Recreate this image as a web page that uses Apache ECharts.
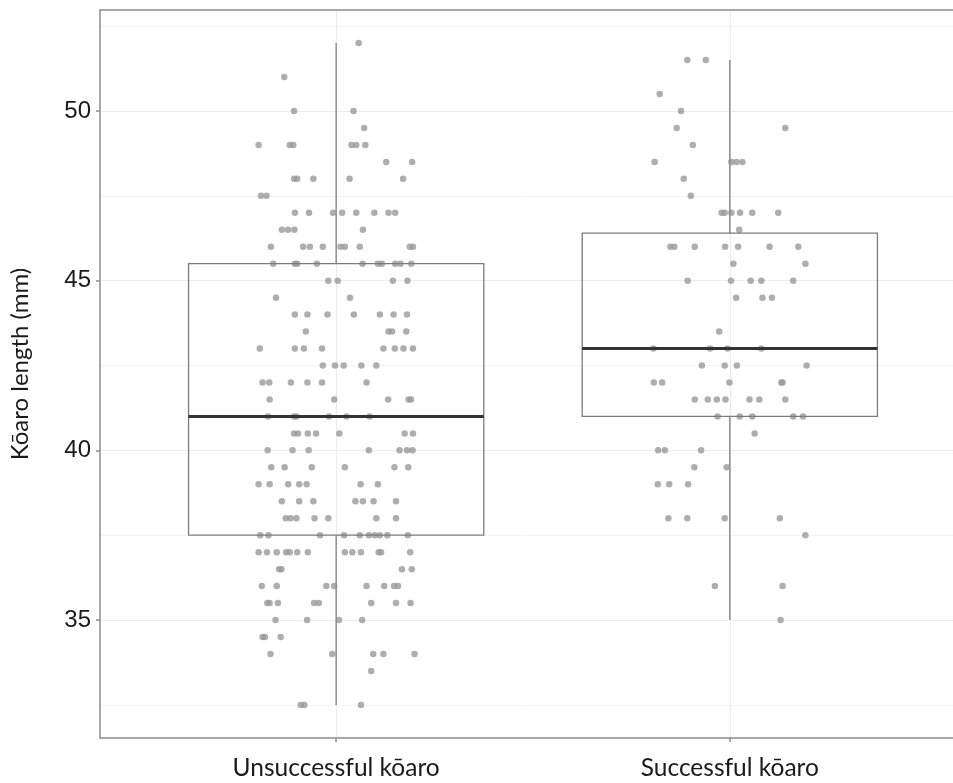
<!DOCTYPE html>
<html>
<head>
<meta charset="utf-8">
<title>Kōaro length</title>
<script src="https://cdn.jsdelivr.net/npm/echarts@6/dist/echarts.min.js"></script>
<style>
  html, body { margin: 0; padding: 0; background: #fff; }
  #chart { width: 953px; height: 783px; }
</style>
</head>
<body>
<div id="chart"></div>
<script>
const categories = ['Unsuccessful kōaro', 'Successful kōaro']

// [lower whisker, Q1, median, Q3, upper whisker]
const boxStats = [
  [32.5, 37.5, 41, 45.5, 52],
  [35, 41, 43, 46.4, 51.5]
]

const yTicks = [35, 40, 45, 50]
const yMinorLines = [32.5, 37.5, 42.5, 47.5, 52.5]

// jittered points: [horizontal jitter, length mm]
const unsuccessfulPoints = [
  [0.057, 52], [-0.132, 51], [-0.107, 50], [0.044, 50], [0.071, 49.5],
  [-0.197, 49], [-0.118, 49], [-0.109, 49], [0.039, 49], [0.051, 49], [0.074, 49],
  [0.127, 48.5], [0.193, 48.5],
  [-0.107, 48], [-0.099, 48], [-0.058, 48], [0.034, 48], [0.170, 48],
  [-0.191, 47.5], [-0.177, 47.5],
  [-0.105, 47], [-0.069, 47], [-0.008, 47], [0.015, 47], [0.051, 47], [0.097, 47], [0.133, 47], [0.150, 47],
  [-0.138, 46.5], [-0.122, 46.5], [-0.106, 46.5], [0.068, 46.5],
  [-0.166, 46], [-0.084, 46], [-0.067, 46], [-0.034, 46], [0.011, 46], [0.022, 46], [0.060, 46], [0.187, 46], [0.195, 46],
  [-0.160, 45.5], [-0.105, 45.5], [-0.099, 45.5], [-0.049, 45.5], [0.067, 45.5], [0.106, 45.5], [0.116, 45.5], [0.150, 45.5], [0.163, 45.5], [0.191, 45.5],
  [-0.020, 45], [0.004, 45], [0.144, 45], [0.181, 45],
  [-0.153, 44.5], [0.035, 44.5],
  [-0.105, 44], [-0.073, 44], [-0.022, 44], [0.045, 44], [0.111, 44], [0.146, 44], [0.180, 44],
  [-0.077, 43.5], [0.133, 43.5], [0.142, 43.5], [0.178, 43.5],
  [-0.194, 43], [-0.105, 43], [-0.082, 43], [-0.036, 43], [0.120, 43], [0.149, 43], [0.171, 43], [0.195, 43],
  [-0.034, 42.5], [-0.003, 42.5], [0.019, 42.5], [0.064, 42.5], [0.102, 42.5],
  [-0.187, 42], [-0.170, 42], [-0.115, 42], [-0.073, 42], [-0.036, 42], [0.077, 42],
  [-0.169, 41.5], [-0.005, 41.5], [0.132, 41.5], [0.184, 41.5], [0.190, 41.5],
  [-0.173, 41], [-0.107, 41], [-0.101, 41], [-0.018, 41], [0.026, 41], [0.085, 41],
  [-0.107, 40.5], [-0.097, 40.5], [-0.072, 40.5], [-0.051, 40.5], [0.008, 40.5], [0.174, 40.5], [0.195, 40.5],
  [-0.174, 40], [-0.111, 40], [-0.070, 40], [0.083, 40], [0.161, 40], [0.180, 40], [0.194, 40],
  [-0.165, 39.5], [-0.131, 39.5], [-0.062, 39.5], [0.022, 39.5], [0.148, 39.5], [0.183, 39.5],
  [-0.197, 39], [-0.169, 39], [-0.122, 39], [-0.094, 39], [-0.075, 39], [0.062, 39], [0.106, 39],
  [-0.138, 38.5], [-0.094, 38.5], [-0.058, 38.5], [0.049, 38.5], [0.068, 38.5], [0.095, 38.5], [0.152, 38.5],
  [-0.128, 38], [-0.116, 38], [-0.101, 38], [-0.055, 38], [-0.020, 38], [0.102, 38], [0.152, 38],
  [-0.193, 37.5], [-0.172, 37.5], [-0.041, 37.5], [0.020, 37.5], [0.060, 37.5], [0.083, 37.5], [0.098, 37.5], [0.111, 37.5], [0.130, 37.5], [0.182, 37.5],
  [-0.197, 37], [-0.176, 37], [-0.151, 37], [-0.127, 37], [-0.118, 37], [-0.099, 37], [-0.072, 37], [0.022, 37], [0.041, 37], [0.063, 37], [0.108, 37], [0.114, 37], [0.188, 37],
  [-0.145, 36.5], [-0.139, 36.5], [0.167, 36.5], [0.192, 36.5],
  [-0.189, 36], [-0.151, 36], [-0.025, 36], [-0.005, 36], [0.077, 36], [0.122, 36], [0.147, 36], [0.157, 36],
  [-0.175, 35.5], [-0.169, 35.5], [-0.148, 35.5], [-0.056, 35.5], [-0.044, 35.5], [0.089, 35.5], [0.152, 35.5], [0.189, 35.5],
  [-0.154, 35], [-0.074, 35], [0.007, 35], [0.066, 35],
  [-0.187, 34.5], [-0.181, 34.5], [-0.141, 34.5],
  [-0.167, 34], [-0.010, 34], [0.094, 34], [0.120, 34], [0.199, 34],
  [0.089, 33.5],
  [-0.090, 32.5], [-0.081, 32.5], [0.063, 32.5]
]

const successfulPoints = [
  [-0.108, 51.5], [-0.061, 51.5], [-0.178, 50.5], [-0.124, 50],
  [-0.135, 49.5], [0.141, 49.5], [-0.094, 49],
  [-0.191, 48.5], [0.004, 48.5], [0.017, 48.5], [0.032, 48.5],
  [-0.117, 48], [-0.099, 47.5],
  [-0.021, 47], [-0.013, 47], [0.004, 47], [0.026, 47], [0.057, 47], [0.123, 47],
  [0.024, 46.5],
  [-0.151, 46], [-0.141, 46], [-0.089, 46], [-0.012, 46], [0.021, 46], [0.101, 46], [0.174, 46],
  [0.009, 45.5], [0.192, 45.5],
  [-0.107, 45], [0.003, 45], [0.053, 45], [0.080, 45], [0.161, 45],
  [0.016, 44.5], [0.083, 44.5], [0.107, 44.5],
  [-0.027, 43.5],
  [-0.194, 43], [-0.050, 43], [-0.006, 43], [0.080, 43],
  [-0.071, 42.5], [-0.013, 42.5], [0.018, 42.5], [0.195, 42.5],
  [-0.193, 42], [-0.172, 42], [-0.001, 42], [0.131, 42], [0.134, 42],
  [-0.089, 41.5], [-0.056, 41.5], [-0.033, 41.5], [-0.011, 41.5], [0.050, 41.5], [0.075, 41.5], [0.141, 41.5],
  [-0.031, 41], [0.025, 41], [0.057, 41], [0.161, 41], [0.186, 41],
  [0.063, 40.5],
  [-0.182, 40], [-0.165, 40], [-0.073, 40],
  [-0.090, 39.5], [-0.008, 39.5],
  [-0.183, 39], [-0.154, 39], [-0.106, 39],
  [-0.156, 38], [-0.108, 38], [-0.013, 38], [0.127, 38],
  [0.192, 37.5],
  [-0.038, 36], [0.134, 36],
  [0.129, 35]
]

const chart = echarts.init(document.getElementById('chart'))

const pointsAt = (pts, pos) => pts.map(p => [pos + p[0], p[1]])
const boxData = boxStats.map((s, i) => [i + 1].concat(s))

const boxWidth = 0.75
const renderBox = (params, api) => {
  const x = api.value(0)
  const low = api.coord([x, api.value(1)])
  const q1 = api.coord([x, api.value(2)])
  const med = api.coord([x, api.value(3)])
  const q3 = api.coord([x, api.value(4)])
  const high = api.coord([x, api.value(5)])
  const left = api.coord([x - boxWidth / 2, api.value(3)])[0]
  const right = api.coord([x + boxWidth / 2, api.value(3)])[0]
  const whisker = { stroke: '#8e8e8e', lineWidth: 1.5 }
  return {
    type: 'group',
    children: [
      { type: 'line', shape: { x1: high[0], y1: high[1], x2: q3[0], y2: q3[1] }, style: whisker },
      { type: 'line', shape: { x1: q1[0], y1: q1[1], x2: low[0], y2: low[1] }, style: whisker },
      {
        type: 'rect',
        shape: { x: left, y: q3[1], width: right - left, height: q1[1] - q3[1] },
        style: { fill: 'none', stroke: '#7c7c7c', lineWidth: 1.3 }
      },
      { type: 'line', shape: { x1: left, y1: med[1], x2: right, y2: med[1] }, style: { stroke: '#333', lineWidth: 3 } }
    ]
  }
}

const frameLine = { show: true, lineStyle: { color: '#8c8c8c', width: 1.5 } }

chart.setOption({
  animation: false,
  grid: {
    left: 98,
    right: 0,
    top: 10,
    bottom: 45
  },
  xAxis: [
    {
      type: 'value',
      min: 0.4,
      max: 2.567,
      axisLine: frameLine,
      axisTick: {
        show: true,
        length: 4,
        customValues: [1, 2],
        lineStyle: { color: '#8c8c8c', width: 1.5 }
      },
      axisLabel: {
        customValues: [1, 2],
        formatter: v => categories[Math.round(v) - 1],
        margin: 18,
        fontSize: 24.5,
        fontFamily: 'Lato',
        color: '#1a1a1a'
      },
      splitLine: { show: true, lineStyle: { color: '#ececec', width: 1.2 } }
    },
    {
      type: 'value',
      position: 'top',
      min: 0.4,
      max: 2.567,
      axisLine: frameLine,
      axisTick: { show: false },
      axisLabel: { show: false },
      splitLine: { show: false }
    }
  ],
  yAxis: [
    {
      type: 'value',
      min: 31.525,
      max: 52.975,
      name: 'Kōaro length (mm)',
      nameLocation: 'middle',
      nameGap: 68,
      nameTextStyle: { fontSize: 24, fontFamily: 'Lato', color: '#1a1a1a', padding: [0, 0, 0, 20] },
      axisLine: frameLine,
      axisTick: {
        show: true,
        length: 4,
        customValues: yTicks,
        lineStyle: { color: '#8c8c8c', width: 1.5 }
      },
      axisLabel: {
        customValues: yTicks,
        margin: 9,
        fontSize: 24,
        fontFamily: 'Liberation Sans',
        color: '#1a1a1a'
      },
      splitLine: { show: true, lineStyle: { color: '#ececec', width: 1.2 } }
    },
    {
      type: 'value',
      min: 31.525,
      max: 52.975,
      axisLine: { show: false },
      axisTick: { show: false, customValues: yMinorLines },
      axisLabel: { show: false, customValues: yMinorLines },
      splitLine: { show: true, lineStyle: { color: '#f4f4f4', width: 1 } }
    }
  ],
  series: [
    {
      name: categories[0],
      type: 'scatter',
      data: pointsAt(unsuccessfulPoints, 1),
      symbolSize: 6.5,
      itemStyle: { color: '#9a9a9a' },
      z: 2
    },
    {
      name: categories[1],
      type: 'scatter',
      data: pointsAt(successfulPoints, 2),
      symbolSize: 6.5,
      itemStyle: { color: '#9a9a9a' },
      z: 2
    },
    {
      type: 'custom',
      data: boxData,
      renderItem: renderBox,
      encode: { x: 0, y: [1, 2, 3, 4, 5] },
      z: 3
    }
  ]
})
</script>
</body>
</html>
